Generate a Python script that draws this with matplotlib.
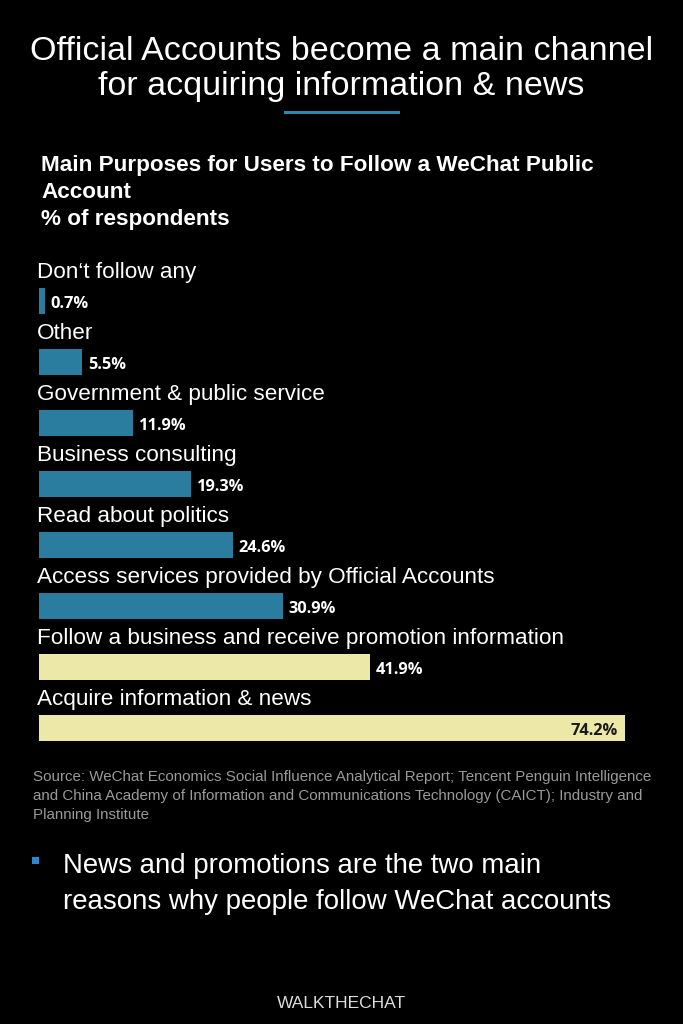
import matplotlib
matplotlib.use("Agg")
import matplotlib.pyplot as plt
from matplotlib.patches import Rectangle

categories = ["Don\u2018t follow any", "Other", "Government & public service",
              "Business consulting", "Read about politics",
              "Access services provided by Official Accounts",
              "Follow a business and receive promotion information",
              "Acquire information & news"]
values = [0.7, 5.5, 11.9, 19.3, 24.6, 30.9, 41.9, 74.2]
highlight = [False, False, False, False, False, False, True, True]

BLUE = "#2b7da0"
YELLOW = "#ece8a8"
BG = "black"
SANS = "Liberation Sans"

W, H = 683, 1024
fig = plt.figure(figsize=(W / 100, H / 100), dpi=100, facecolor=BG)

def fx(px):
    return px / W

def fy(py):
    return 1 - py / H

# Title
fig.text(0.5, fy(51), "Official Accounts become a main channel", ha="center", va="center",
         color="white", fontsize=24.5, family=SANS)
fig.text(0.5, fy(87), "for acquiring information & news", ha="center", va="center",
         color="white", fontsize=24.5, family=SANS)
fig.add_artist(Rectangle((fx(284), fy(114)), fx(400) - fx(284), 3 / H,
                         transform=fig.transFigure, color="#2f86b0", lw=0))

# Subtitle
for txt, y in [("Main Purposes for Users to Follow a WeChat Public", 165),
               ("Account", 193), ("% of respondents", 220)]:
    fig.text(fx(41), fy(y), txt, ha="left", va="center", color="white",
             fontsize=16.2, fontweight="bold", family=SANS)

# Bars axes
px_per_unit = 7.9
ax_left, ax_right = 39, 683
ax_top, ax_bot = 250, 760
c0, step = 301, 61
ax = fig.add_axes([fx(ax_left), fy(ax_bot), fx(ax_right) - fx(ax_left), (ax_bot - ax_top) / H])
ax.set_facecolor(BG)
ax.set_xlim(0, (ax_right - ax_left) / px_per_unit)
ax.set_ylim((ax_bot - c0) / step, (ax_top - c0) / step)
ax.axis("off")

ypos = list(range(len(categories)))
colors = [YELLOW if h else BLUE for h in highlight]
ax.barh(ypos, values, height=0.44, color=colors, edgecolor="none")

for i, (cat, v) in enumerate(zip(categories, values)):
    ax.text(-0.3, i - 0.47, cat, ha="left", va="center", color="white",
            fontsize=16.2, family=SANS)
    lbl = f"{v}%"
    if v > 60:
        ax.text(v - 0.95, i + 0.05, lbl, ha="right", va="center", color="#1a1a1a",
                fontsize=11.8, fontweight="bold", family="Open Sans")
    else:
        ax.text(v + 0.7, i + 0.05, lbl, ha="left", va="center", color="white",
                fontsize=11.8, fontweight="bold", family="Open Sans")

# Source
src = ["Source: WeChat Economics Social Influence Analytical Report; Tencent Penguin Intelligence",
       "and China Academy of Information and Communications Technology (CAICT); Industry and",
       "Planning Institute"]
for k, s in enumerate(src):
    fig.text(fx(33), fy(777 + 19 * k), s, ha="left", va="center", color="#9a9a9a",
             fontsize=10.9, family=SANS)

# Bullet
fig.add_artist(Rectangle((fx(32), fy(864)), 7 / W, 7 / H, transform=fig.transFigure,
                         color="#2f86c8", lw=0))
fig.text(fx(63), fy(866), "News and promotions are the two main", ha="left", va="center",
         color="white", fontsize=19.9, family=SANS)
fig.text(fx(63), fy(902), "reasons why people follow WeChat accounts", ha="left", va="center",
         color="white", fontsize=19.9, family=SANS)

fig.text(0.5, fy(1003), "WALKTHECHAT", ha="center", va="center", color="#dddddd",
         fontsize=12.5, family="Liberation Sans Narrow" if False else SANS)

fig.savefig("out.png", dpi=100, facecolor=BG)
